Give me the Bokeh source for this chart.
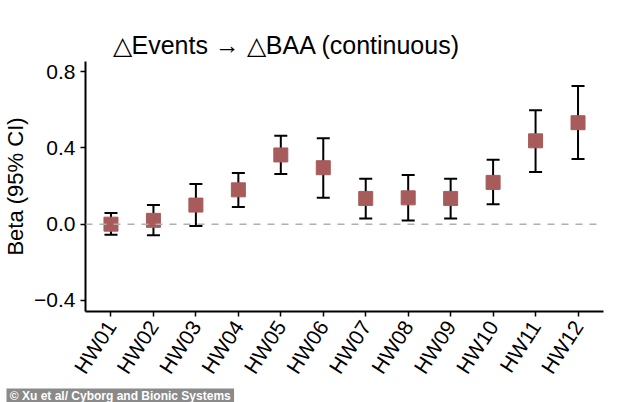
import numpy as np
from bokeh.plotting import figure
from bokeh.models import (ColumnDataSource, Whisker, TeeHead, Span, Title,
                          FixedTicker, Range1d)
from bokeh.embed import file_html
from bokeh.resources import INLINE

categories = ["HW01", "HW02", "HW03", "HW04", "HW05", "HW06",
              "HW07", "HW08", "HW09", "HW10", "HW11", "HW12"]
beta = [0.00, 0.02, 0.10, 0.18, 0.363, 0.296, 0.135, 0.138, 0.135, 0.219, 0.437, 0.532]
ci_low = [-0.055, -0.058, -0.01, 0.09, 0.263, 0.138, 0.03, 0.019, 0.03, 0.104, 0.274, 0.342]
ci_high = [0.058, 0.10, 0.21, 0.268, 0.463, 0.451, 0.238, 0.258, 0.238, 0.338, 0.598, 0.725]
y_ticks = [-0.4, 0.0, 0.4, 0.8]
y_tick_labels = ["\u22120.4", "0.0", "0.4", "0.8"]

FONT = "Liberation Sans"

xs = list(range(1, len(categories) + 1))
src = ColumnDataSource(dict(x=xs, beta=beta, lo=ci_low, hi=ci_high))

p = figure(width=634, height=402, output_backend="svg", toolbar_location=None,
           x_range=Range1d(0.4, 12.6), y_range=Range1d(-0.458, 0.853),
           min_border_left=83, min_border_right=31, min_border_top=61,
           min_border_bottom=91)
p.outline_line_color = None
p.grid.visible = False
p.background_fill_color = "white"
p.border_fill_color = "white"

p.title.text = "\u25b3Events \u2192 \u25b3BAA (continuous)"
p.title.text_font = FONT
p.title.text_font_size = "25px"
p.title.text_font_style = "normal"
p.title.text_color = "black"
p.title.align = "left"
p.title.offset = 27
p.title.standoff = 5

# zero reference line
p.add_layout(Span(location=0, dimension="width", line_color="#b0b0b0",
                  line_width=1.5, line_dash="7 7"))

w = Whisker(source=src, base="x", lower="lo", upper="hi",
            line_color="black", line_width=2,
            upper_head=TeeHead(size=13, line_width=2, line_color="black"),
            lower_head=TeeHead(size=13, line_width=2, line_color="black"))
p.add_layout(w)

p.scatter("x", "beta", source=src, marker="square", size=14,
          fill_color="#a85b5b", line_color="#a85b5b")

# axes
p.xaxis.ticker = FixedTicker(ticks=xs)
p.xaxis.major_label_overrides = {x: c for x, c in zip(xs, categories)}
p.xaxis.major_label_orientation = np.deg2rad(57)
p.yaxis.ticker = FixedTicker(ticks=y_ticks)
p.yaxis.major_label_overrides = {t: s for t, s in zip(y_ticks, y_tick_labels)}
for ax in (p.xaxis, p.yaxis):
    ax.axis_line_width = 2
    ax.axis_line_color = "black"
    ax.major_tick_line_width = 1.5
    ax.major_tick_line_color = "black"
    ax.major_tick_in = 0
    ax.major_tick_out = 5
    ax.minor_tick_line_color = None
    ax.major_label_text_font = FONT
    ax.major_label_text_font_size = "21px"
    ax.major_label_text_color = "black"
p.yaxis.major_label_standoff = 5
p.xaxis.major_label_standoff = 6
p.yaxis.axis_label = "Beta (95% CI)"
p.yaxis.axis_label_text_font = FONT
p.yaxis.axis_label_text_font_size = "22px"
p.yaxis.axis_label_text_font_style = "normal"
p.yaxis.axis_label_text_color = "black"
p.yaxis.axis_label_standoff = 3

wm = Title(text="\u00a0\u00a9 Xu et al/ Cyborg and Bionic Systems\u00a0", align="left",
           offset=-79, text_font=FONT,
           text_font_size="12px", text_font_style="bold", text_color="white",
           background_fill_color="#8a8a8a", standoff=0)
p.add_layout(wm, "below")

open("out.html", "w").write(file_html(p, INLINE))
